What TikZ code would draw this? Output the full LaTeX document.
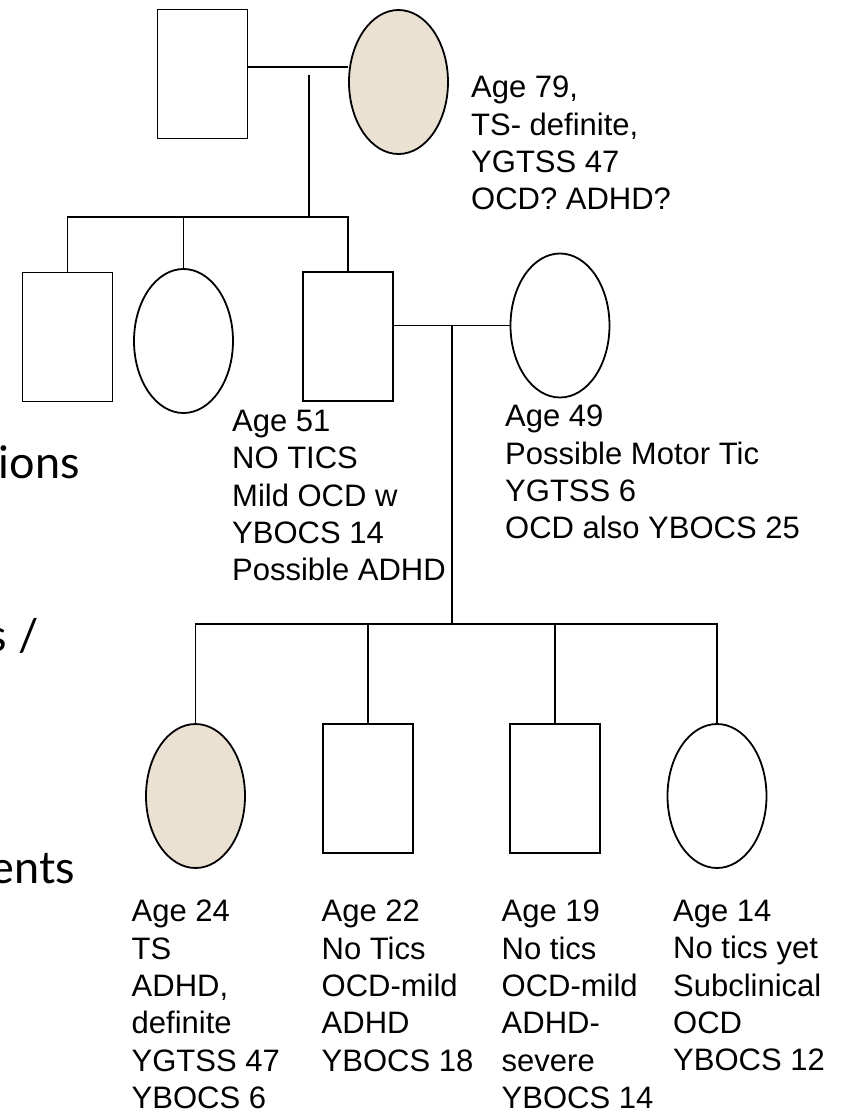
\documentclass[tikz,border=0pt]{standalone}
\usepackage{fontspec}
\setmainfont{Liberation Sans}
\newfontfamily\slidefont{Lato}
\usetikzlibrary{shapes.geometric}
\definecolor{affect}{HTML}{EAE1D3}

\begin{document}
\begin{tikzpicture}[x=1pt,y=-1pt,
        male/.style={draw,line width=1.8pt,minimum width=90pt,minimum height=129pt,inner sep=0pt},
        female/.style={draw,ellipse,line width=1.8pt,minimum width=99pt,minimum height=144pt,inner sep=0pt},
        txt/.style={anchor=north west,inner sep=0pt,align=left,font=\fontsize{31}{37.3}\selectfont},
        side/.style={anchor=base east,inner sep=0pt,font=\slidefont\fontsize{45}{54}\selectfont},
        link/.style={line width=1.8pt},
        thinlink/.style={line width=1.1pt}]
        \useasboundingbox(0,0)rectangle(848,1114);
        \node[male](gf)at(202.5,74){};
        \node[female,fill=affect](gm)at(398.5,82){};
        \node[male](un)at(67.5,337){};
        \node[female](au)at(183.5,341){};
        \node[male](fa)at(348,336.5){};
        \node[female](mo)at(560,325.5){};
        \node[female,fill=affect](c1)at(195.5,796){};
        \node[male](c2)at(368,788.5){};
        \node[male](c3)at(555,788.5){};
        \node[female](c4)at(717,796){};
        \coordinate(m1)at(309,67);
        \coordinate(d1)at(309,75);
        \coordinate(s1)at(309,217);
        \coordinate(d2)at(452,326);
        \coordinate(s2)at(452,624);
        \draw[link](gf.east|-m1)--(gm.west|-m1);
        \draw[thinlink](d1)--(s1);
        \draw[link](un.north)|-(s1)-|(fa.north);
        \draw[link](au.north)--(au.north|-s1);
        \draw[link](fa.east|-mo.west)--(mo.west);
        \draw[link](d2)--(s2);
        \draw[link](c1.north)|-(s2)-|(c4.north);
        \draw[link](c2.north)--(c2.north|-s2);
        \draw[link](c3.north)--(c3.north|-s2);
        \node[txt](gmlab)at(471,76){Age 79,\\TS- definite,\\YGTSS 47\\OCD? ADHD?};
        \node[txt](falab)at(232,410){Age 51\\NO TICS\\Mild OCD w\\YBOCS 14\\Possible ADHD};
        \node[txt](molab)at(505,405){Age 49\\Possible Motor Tic\\YGTSS 6\\OCD also YBOCS 25};
        \node[txt](c1lab)at(131.5,900){Age 24\\TS\\ADHD,\\definite\\YGTSS 47\\YBOCS 6};
        \node[txt](c2lab)at(321.5,900){Age 22\\No Tics\\OCD-mild\\ADHD\\YBOCS 18};
        \node[txt](c3lab)at(501.5,900){Age 19\\No tics\\OCD-mild\\ADHD-\\severe\\YBOCS 14};
        \node[txt](c4lab)at(673,900){Age 14\\No tics yet\\Subclinical\\OCD\\YBOCS 12};
        \node[side](cut1)at(80,478){ions};
        \node[side](cut2)at(39,651){s /};
        \node[side](cut3)at(75,883){ents};
    \end{tikzpicture}
\end{document}
